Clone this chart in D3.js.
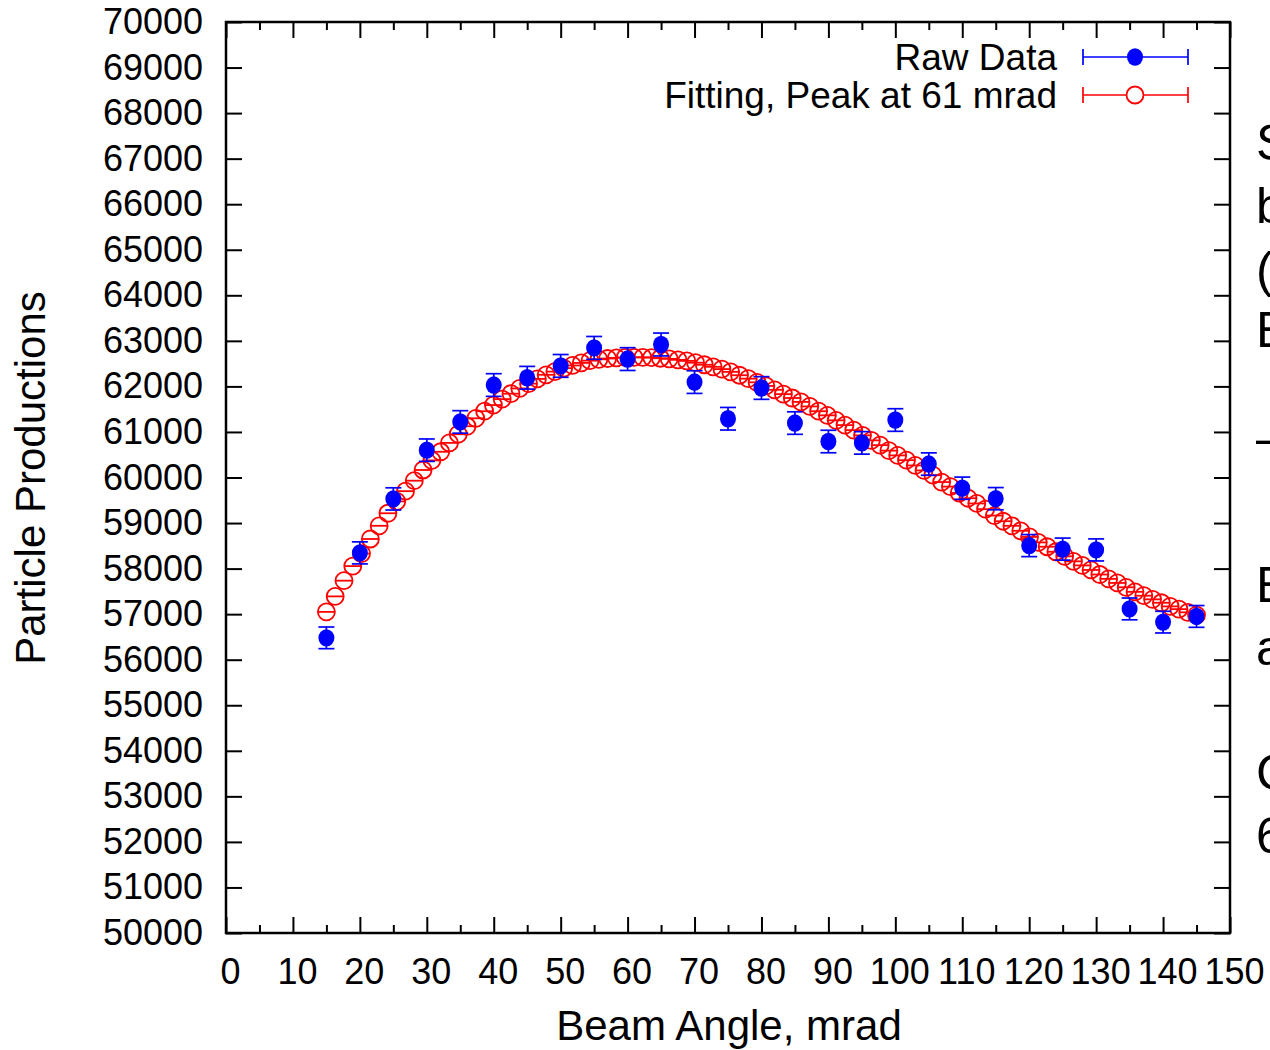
<!DOCTYPE html>
<html><head><meta charset="utf-8">
<script src="https://cdn.jsdelivr.net/npm/d3@7/dist/d3.min.js"></script>
<style>
html,body{margin:0;padding:0;background:#fff;overflow:hidden;}
svg{display:block;}
text{font-family:"Liberation Sans",Arial,Helvetica,sans-serif;}
</style></head>
<body>
<svg id="chart" width="1270" height="1050"></svg>
<script>
// ---- data ----
const rawX = [15,20,25,30,35,40,45,50,55,60,65,70,75,80,85,90,95,100,105,110,115,120,125,130,135,140,145];
const rawY = [56480,58345,59530,60600,61220,62030,62190,62450,62845,62600,62920,62095,61290,61965,61195,60790,60760,61262,60295,59765,59535,58505,58428,58410,57115,56825,56950];
const rawErr = [238,242,244,246,247,249,249,250,251,250,251,249,248,249,247,247,247,248,246,244,244,242,242,242,239,238,239];

const fitX = [15.00,16.31,17.63,18.94,20.25,21.57,22.88,24.19,25.51,26.82,28.13,29.44,30.76,32.07,33.38,34.70,36.01,37.32,38.64,39.95,41.26,42.58,43.89,45.20,46.52,47.83,49.14,50.45,51.77,53.08,54.39,55.71,57.02,58.33,59.65,60.96,62.27,63.59,64.90,66.21,67.53,68.84,70.15,71.46,72.78,74.09,75.40,76.72,78.03,79.34,80.66,81.97,83.28,84.60,85.91,87.22,88.54,89.85,91.16,92.48,93.79,95.10,96.42,97.73,99.04,100.35,101.67,102.98,104.29,105.61,106.92,108.23,109.55,110.86,112.17,113.48,114.80,116.11,117.42,118.74,120.05,121.36,122.68,123.99,125.30,126.62,127.93,129.24,130.56,131.87,133.18,134.49,135.81,137.12,138.43,139.75,141.06,142.37,143.69,145.00];
const fitY = [57050,57390,57735,58055,58330,58650,58940,59215,59475,59700,59930,60165,60375,60565,60760,60950,61125,61300,61455,61590,61720,61840,61955,62060,62165,62255,62325,62400,62460,62515,62565,62595,62612,62627,62636,62638,62638,62633,62618,62605,62583,62560,62520,62475,62430,62380,62320,62245,62170,62090,62010,61925,61830,61745,61660,61560,61455,61365,61255,61150,61040,60925,60815,60710,60590,60485,60380,60265,60155,60050,59900,59800,59660,59545,59430,59305,59165,59040,58940,58830,58695,58575,58480,58370,58270,58160,58070,57970,57870,57775,57685,57590,57490,57405,57325,57250,57170,57110,57040,56980];

const xMajor = [0,10,20,30,40,50,60,70,80,90,100,110,120,130,140,150];
const xMinor = [5,15,25,35,45,55,65,75,85,95,105,115,125,135,145];
const yTicks = [50000,51000,52000,53000,54000,55000,56000,57000,58000,59000,60000,61000,62000,63000,64000,65000,66000,67000,68000,69000,70000];

const legendLabels = ["Raw Data","Fitting, Peak at 61 mrad"];
const xTitle = "Beam Angle, mrad";
const yTitle = "Particle Productions";
const sideText = ["S","b","(","E","–","E","a","C","6"];

// ---- layout ----
const svg = d3.select("#chart");
const L = 226, R = 1230, T = 22, B = 933;
const x = d3.scaleLinear().domain([0,150]).range([L,R]);
const y = d3.scaleLinear().domain([50000,70000]).range([B,T]);
const FS = 36;

function styleAxis(g){
  g.select(".domain").remove();
  g.selectAll(".tick line").attr("stroke","#000").attr("stroke-width",2);
  g.selectAll("text").attr("font-size",FS).attr("fill","#000").attr("font-family",'"Liberation Sans",Arial,sans-serif');
}

// bottom
svg.append("g").attr("transform",`translate(0,${B})`)
  .call(d3.axisBottom(x).tickValues(xMajor).tickSize(-16).tickPadding(25).tickFormat(d3.format("d")))
  .call(styleAxis).selectAll("text").attr("dx",4);
svg.append("g").attr("transform",`translate(0,${B})`)
  .call(d3.axisBottom(x).tickValues(xMinor).tickSize(-8).tickFormat(""))
  .call(styleAxis);
// top
svg.append("g").attr("transform",`translate(0,${T})`)
  .call(d3.axisTop(x).tickValues(xMajor).tickSize(-16).tickFormat(""))
  .call(styleAxis);
svg.append("g").attr("transform",`translate(0,${T})`)
  .call(d3.axisTop(x).tickValues(xMinor).tickSize(-8).tickFormat(""))
  .call(styleAxis);
// left
svg.append("g").attr("transform",`translate(${L},0)`)
  .call(d3.axisLeft(y).tickValues(yTicks).tickSize(-16).tickPadding(23).tickFormat(d3.format("d")))
  .call(styleAxis);
// right
svg.append("g").attr("transform",`translate(${R},0)`)
  .call(d3.axisRight(y).tickValues(yTicks).tickSize(-16).tickFormat(""))
  .call(styleAxis);

// border
svg.append("rect").attr("x",L).attr("y",T).attr("width",R-L).attr("height",B-T)
  .attr("fill","none").attr("stroke","#000").attr("stroke-width",2.5);

// titles
svg.append("text").attr("x",729).attr("y",1040).attr("text-anchor","middle")
  .attr("font-size",42).text(xTitle);
svg.append("text").attr("transform","translate(45,478) rotate(-90)").attr("text-anchor","middle")
  .attr("font-size",42).text(yTitle);

// fit series (red open circles with horizontal bar)
const plot = svg.append("g");
const fit = fitX.map((v,i)=>({x:v,y:fitY[i]}));
const rFit = 8.5;
const fg = plot.append("g").attr("stroke","#ff0000").attr("stroke-width",1.8).attr("fill","none");
fg.selectAll("line").data(fit).join("line")
  .attr("x1",d=>x(d.x)-rFit).attr("x2",d=>x(d.x)+rFit)
  .attr("y1",d=>y(d.y)).attr("y2",d=>y(d.y));
fg.selectAll("circle").data(fit).join("circle")
  .attr("cx",d=>x(d.x)).attr("cy",d=>y(d.y)).attr("r",rFit);

// raw data
const raw = rawX.map((v,i)=>({x:v,y:rawY[i],e:rawErr[i]}));
const bg = plot.append("g").attr("stroke","#0000ff").attr("stroke-width",1.7);
const cap = 8;
bg.selectAll("line.v").data(raw).join("line").attr("class","v")
  .attr("x1",d=>x(d.x)).attr("x2",d=>x(d.x)).attr("y1",d=>y(d.y-d.e)).attr("y2",d=>y(d.y+d.e));
bg.selectAll("line.t").data(raw).join("line").attr("class","t")
  .attr("x1",d=>x(d.x)-cap).attr("x2",d=>x(d.x)+cap).attr("y1",d=>y(d.y+d.e)).attr("y2",d=>y(d.y+d.e));
bg.selectAll("line.b").data(raw).join("line").attr("class","b")
  .attr("x1",d=>x(d.x)-cap).attr("x2",d=>x(d.x)+cap).attr("y1",d=>y(d.y-d.e)).attr("y2",d=>y(d.y-d.e));
plot.append("g").selectAll("ellipse").data(raw).join("ellipse")
  .attr("cx",d=>x(d.x)).attr("cy",d=>y(d.y)).attr("rx",8).attr("ry",8.7).attr("fill","#0000ff");

// legend
const lg = svg.append("g");
const rowsY = [57,95];
const colors = ["#0000ff","#ff0000"];
legendLabels.forEach((lab,i)=>{
  const cy = rowsY[i];
  lg.append("text").attr("x",1057).attr("y",cy).attr("dy","0.35em").attr("text-anchor","end")
    .attr("font-size",37).text(lab);
  const g = lg.append("g").attr("stroke",colors[i]).attr("stroke-width",1.7);
  g.append("line").attr("x1",1083).attr("x2",1188).attr("y1",cy).attr("y2",cy);
  g.append("line").attr("x1",1083).attr("x2",1083).attr("y1",cy-8).attr("y2",cy+8);
  g.append("line").attr("x1",1188).attr("x2",1188).attr("y1",cy-8).attr("y2",cy+8);
  if(i===0) lg.append("ellipse").attr("cx",1135).attr("cy",cy).attr("rx",8).attr("ry",8.7).attr("fill","#0000ff");
  else lg.append("circle").attr("cx",1135).attr("cy",cy).attr("r",rFit).attr("fill","#fff")
        .attr("stroke","#ff0000").attr("stroke-width",1.8);
});

// cut-off side text (cropped at the right edge, as in the reference)
const sideY = [160,223,287,347,455,602,665,790,853];
svg.append("g").selectAll("text").data(sideText).join("text")
  .attr("x",1256).attr("y",(d,i)=>sideY[i]).attr("font-size",50)
  .attr("font-family",'"Open Sans","DejaVu Sans",sans-serif').text(d=>d);
</script>
</body></html>
